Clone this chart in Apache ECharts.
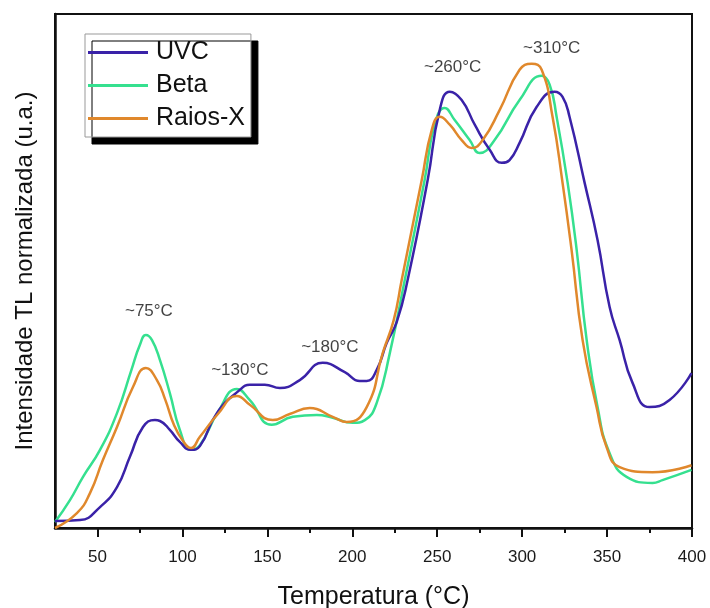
<!DOCTYPE html>
<html>
<head>
<meta charset="utf-8">
<script src="https://cdn.jsdelivr.net/npm/echarts@6/dist/echarts.min.js"></script>
<style>
  html, body { margin: 0; padding: 0; background: #fff; }
  #tlChart { width: 710px; height: 608px; }
</style>
</head>
<body>
<div id="tlChart"></div>
<script>
// [temperatura (°C), intensidade normalizada]
var dadosUVC = [
  [25, 0.015], [39.7, 0.017], [51.5, 0.045], [61.5, 0.088], [69.1, 0.153],
  [76.8, 0.217], [83.8, 0.232], [86.8, 0.230], [92.6, 0.211], [98.5, 0.185],
  [105, 0.168], [110.3, 0.176], [120.3, 0.247], [133.8, 0.297], [139.7, 0.308],
  [148.5, 0.308], [157.4, 0.301], [169.1, 0.318], [182.6, 0.355], [195.6, 0.335],
  [204.4, 0.316], [208.5, 0.316], [214.4, 0.340], [220.3, 0.398], [226.2, 0.443],
  [232.6, 0.533], [244.4, 0.748], [251.5, 0.899], [257.4, 0.938], [264.4, 0.920],
  [272.1, 0.867], [280.9, 0.813], [288, 0.785], [292.6, 0.791], [298.5, 0.828],
  [308.5, 0.905], [319.1, 0.938], [323.8, 0.927], [327.9, 0.884], [336.8, 0.742],
  [344.4, 0.619], [351.5, 0.475], [357.4, 0.404], [365, 0.312], [375, 0.260],
  [386.8, 0.275], [399.7, 0.333]
];

var dadosBeta = [
  [25, 0.013], [33.8, 0.060], [41.5, 0.110], [51.5, 0.168], [61.5, 0.247],
  [70, 0.340], [75, 0.394], [78.5, 0.415], [82.1, 0.404], [86.8, 0.361],
  [92.6, 0.290], [98.5, 0.211], [105, 0.168], [110.3, 0.178], [120.9, 0.249],
  [132.1, 0.299], [139.7, 0.275], [152.6, 0.222], [165, 0.239], [179.1, 0.243],
  [188.5, 0.237], [200.3, 0.226], [207.4, 0.232], [214.4, 0.269], [222.1, 0.376],
  [230.9, 0.533], [242.6, 0.748], [248.5, 0.867], [254.4, 0.903], [260.3, 0.877],
  [269.1, 0.834], [275, 0.806], [283.8, 0.834], [298.5, 0.920], [311.5, 0.972],
  [316.2, 0.953], [320.3, 0.884], [326.8, 0.742], [332.1, 0.598], [338, 0.404],
  [344.4, 0.260], [351.5, 0.161], [361.5, 0.110], [376.8, 0.097], [382.6, 0.103],
  [399.7, 0.125]
];

var dadosRaiosX = [
  [25, 0.000], [37.9, 0.032], [45.6, 0.075], [53.2, 0.146], [61.5, 0.217],
  [70.9, 0.303], [78.5, 0.344], [85, 0.318], [90, 0.275], [95, 0.222],
  [100, 0.189], [105, 0.172], [110.3, 0.196], [120.9, 0.245], [132.1, 0.284],
  [139.7, 0.265], [153.2, 0.232], [163.2, 0.245], [175, 0.258], [188.5, 0.239],
  [196.8, 0.228], [208.5, 0.260], [217.9, 0.376], [224.4, 0.447], [229.1, 0.533],
  [240.9, 0.748], [246.8, 0.856], [251.5, 0.884], [257.4, 0.867], [264.4, 0.834],
  [270.3, 0.817], [276.8, 0.834], [286.8, 0.899], [298.5, 0.985], [305.6, 0.998],
  [311.5, 0.985], [317.9, 0.884], [323.8, 0.742], [329.1, 0.598], [335.6, 0.404],
  [343.8, 0.260], [349.7, 0.174], [357.4, 0.131], [376.8, 0.120], [399.7, 0.135]
];

// rótulos dos picos
var picosTexto = ["~75°C", "~130°C", "~180°C", "~260°C", "~310°C"];
var picosTemp = [80.3, 133.8, 186.8, 259.1, 317.4];
var picosAltura = [0.465, 0.340, 0.389, 0.991, 1.032];

var ticksMaiores = [50, 100, 150, 200, 250, 300, 350, 400];
var ticksMenores = [75, 125, 175, 225, 275, 325, 375];

var tlChart = echarts.init(document.getElementById("tlChart"));

var fonte = "Liberation Sans, Arial, sans-serif";

var option = {
  animation: false,
  textStyle: { fontFamily: fonte },
  grid: {
    left: 55,
    right: 18,
    top: 14,
    bottom: 80,
    outerBoundsMode: "none",
    containLabel: false,
    show: true,
    borderColor: "#111",
    borderWidth: 2,
    backgroundColor: "#fff",
  },
  legend: {
    orient: "vertical",
    left: 85,
    top: 34,
    data: ["UVC", "Beta", "Raios-X"],
    icon: "rect",
    itemWidth: 60,
    itemHeight: 3,
    itemGap: 8,
    padding: [6, 6, 6, 3],
    backgroundColor: "#fff",
    borderColor: "#999",
    borderWidth: 1,
    shadowColor: "#000",
    shadowBlur: 0,
    shadowOffsetX: 7,
    shadowOffsetY: 7,
    textStyle: {
      fontSize: 25,
      color: "#111",
      fontFamily: fonte,
      padding: [0, 0, 0, 3],
    },
  },
  xAxis: [
    {
      type: "value",
      min: 25,
      max: 400,
      name: "Temperatura (°C)",
      nameLocation: "middle",
      nameGap: 57,
      nameTextStyle: { fontSize: 25, color: "#111", fontFamily: fonte },
      axisLine: { show: true, onZero: false, lineStyle: { color: "#111", width: 2.5 } },
      axisTick: {
        show: true,
        customValues: ticksMaiores,
        length: 9,
        lineStyle: { color: "#111", width: 2 },
      },
      axisLabel: {
        customValues: ticksMaiores,
        fontSize: 17,
        color: "#1a1a1a",
        margin: 21,
        fontFamily: fonte,
      },
      splitLine: { show: false },
    },
    {
      type: "value",
      min: 25,
      max: 400,
      position: "bottom",
      axisLine: { show: false },
      axisTick: {
        show: true,
        customValues: ticksMenores,
        length: 5,
        lineStyle: { color: "#111", width: 2 },
      },
      axisLabel: { show: false },
      splitLine: { show: false },
    },
  ],
  yAxis: {
    type: "value",
    min: 0,
    max: 1.105,
    name: "Intensidade TL normalizada (u.a.)",
    nameLocation: "middle",
    nameGap: 18,
    nameTextStyle: { fontSize: 24, color: "#111", fontFamily: fonte },
    axisLine: { show: true, onZero: false, lineStyle: { color: "#111", width: 2.5 } },
    axisTick: { show: false },
    axisLabel: { show: false },
    splitLine: { show: false },
  },
  series: [
    {
      name: "UVC",
      type: "line",
      data: dadosUVC,
      smooth: 0.5,
      symbol: "none",
      color: "#3a22a8",
      lineStyle: { width: 2.5, color: "#3a22a8" },
      z: 3,
    },
    {
      name: "Beta",
      type: "line",
      data: dadosBeta,
      smooth: 0.5,
      symbol: "none",
      color: "#35e08f",
      lineStyle: { width: 2.5, color: "#35e08f" },
      z: 2,
    },
    {
      name: "Raios-X",
      type: "line",
      data: dadosRaiosX,
      smooth: 0.5,
      symbol: "none",
      color: "#e0882c",
      lineStyle: { width: 2.5, color: "#e0882c" },
      z: 4,
    },
    {
      name: "picos",
      type: "scatter",
      symbolSize: 1,
      itemStyle: { color: "rgba(0,0,0,0)" },
      silent: true,
      data: picosTemp.map(function (t, i) {
        return { value: [t, picosAltura[i]], name: picosTexto[i] };
      }),
      label: {
        show: true,
        position: "inside",
        formatter: function (p) { return p.name; },
        fontSize: 17,
        color: "#111",
        textBorderWidth: 0,
        fontFamily: fonte,
      },
      z: 5,
    },
  ],
};

tlChart.setOption(option);
</script>
</body>
</html>
